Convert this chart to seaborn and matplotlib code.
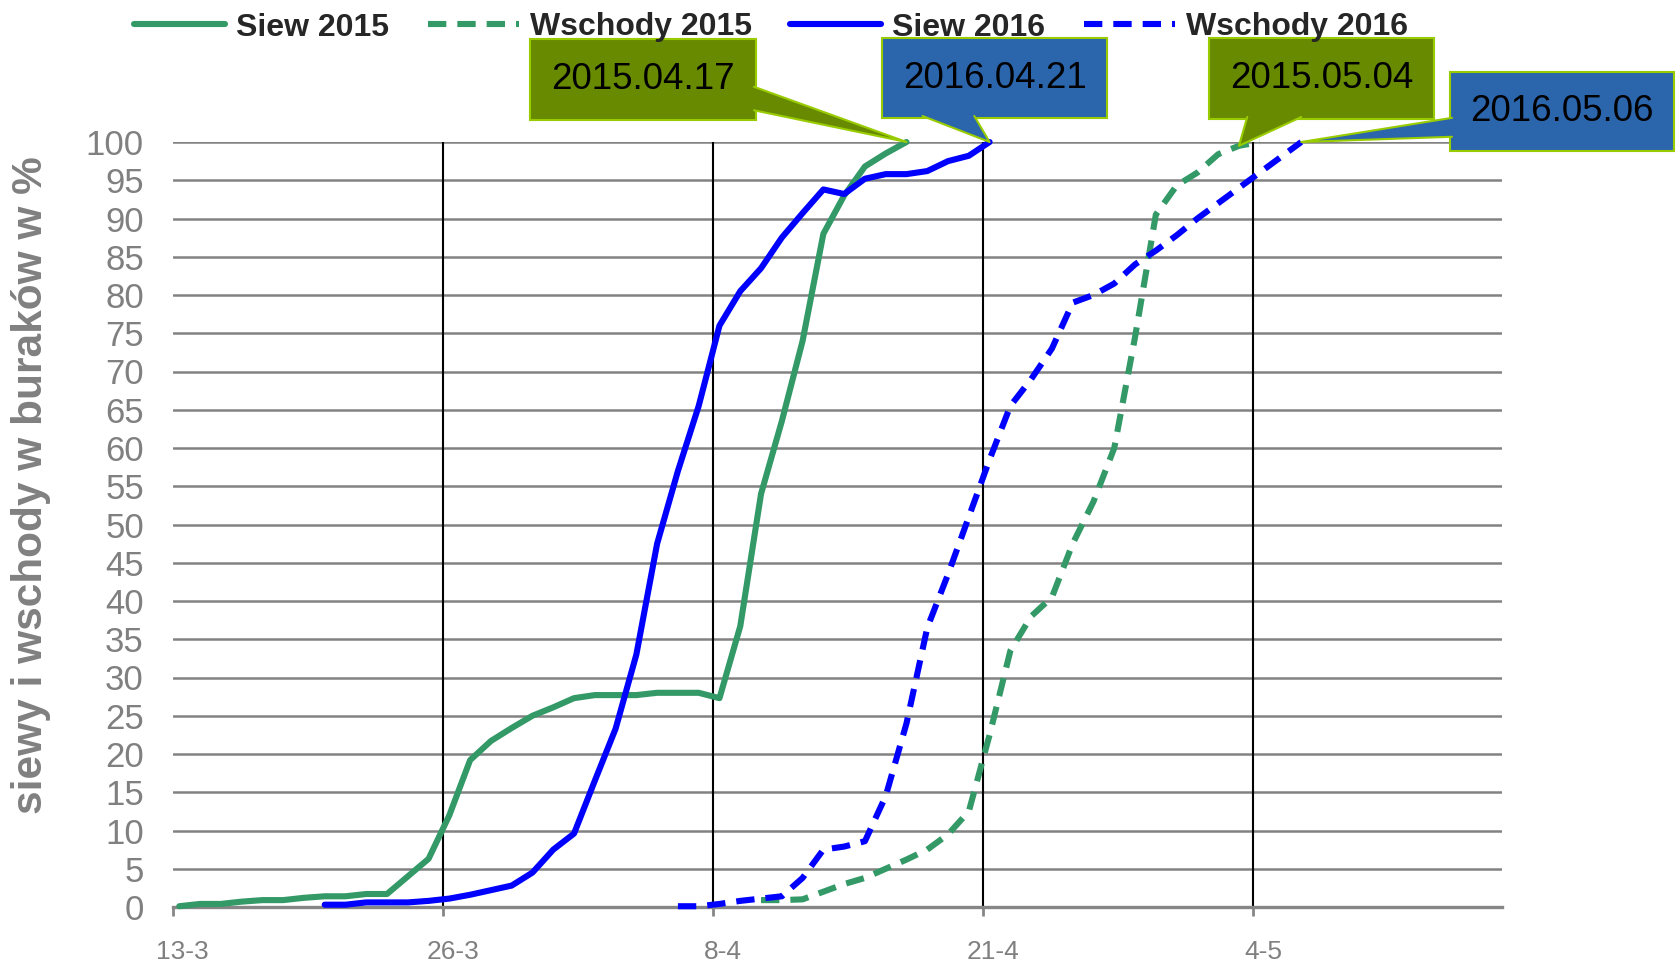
import matplotlib
matplotlib.use("Agg")
import matplotlib.pyplot as plt
import matplotlib.patches as mpatches
import matplotlib.lines as mlines
from matplotlib.transforms import ScaledTranslation
import numpy as np
import pandas as pd
import seaborn as sns

# x axis: days counted from 13 March (same calendar for both seasons)
tick_days = [0, 13, 26, 39, 52]
tick_labels = ["13-3", "26-3", "8-4", "21-4", "4-5"]

siew_2015_start = 0
siew_2015 = [0.1, 0.4, 0.4, 0.7, 0.9, 0.9, 1.2, 1.4, 1.4, 1.7, 1.7, 4.0, 6.3,
             12.0, 19.2, 21.7, 23.4, 25.0, 26.1, 27.3, 27.7, 27.7, 27.7, 28.0,
             28.0, 28.0, 27.3, 36.7, 54.0, 63.5, 74.0, 88.0, 93.0, 96.8, 98.5,
             100.0]

wschody_2015_start = 28
wschody_2015 = [0.9, 0.9, 1.0, 2.0, 3.0, 3.8, 5.0, 6.2, 7.5, 9.5, 12.5, 22.5,
                33.5, 38.0, 40.5, 47.5, 53.0, 60.0, 74.5, 90.5, 94.3, 96.0,
                98.4, 99.5, 100.0]

siew_2016_start = 7
siew_2016 = [0.3, 0.3, 0.6, 0.6, 0.6, 0.8, 1.1, 1.6, 2.2, 2.8, 4.5, 7.5, 9.6,
             16.5, 23.3, 33.0, 47.5, 57.0, 65.5, 76.0, 80.5, 83.5, 87.5, 90.7,
             93.8, 93.2, 95.2, 95.8, 95.8, 96.2, 97.5, 98.2, 100.0]

wschody_2016_start = 24
wschody_2016 = [0.1, 0.1, 0.4, 0.8, 1.1, 1.4, 3.8, 7.5, 7.9, 8.6, 14.5, 24.0,
                36.5, 43.5, 51.0, 58.5, 65.5, 69.0, 73.0, 79.0, 80.0, 81.5,
                84.0, 85.8, 87.8, 90.0, 92.0, 94.0, 96.0, 98.0, 100.0]

series_names = ["Siew 2015", "Wschody 2015", "Siew 2016", "Wschody 2016"]
series_starts = [siew_2015_start, wschody_2015_start, siew_2016_start, wschody_2016_start]
series_values = [siew_2015, wschody_2015, siew_2016, wschody_2016]
series_colors = ["#339966", "#339966", "#0000FF", "#0000FF"]
series_styles = ["-", (0, (3, 1.8)), "-", (0, (3, 1.8))]

# callouts: text, series it points at, which point of that series
callout_texts = ["2015.04.17", "2016.04.21", "2015.05.04", "2016.05.06"]
callout_series = ["Siew 2015", "Siew 2016", "Wschody 2015", "Wschody 2016"]
callout_point = [-1, -1, -2, -1]
callout_fill = ["#688A00", "#2B65AC", "#688A00", "#2B65AC"]

frames = []
for name, start, vals in zip(series_names, series_starts, series_values):
    frames.append(pd.DataFrame({"day": np.arange(start, start + len(vals)),
                                "value": vals, "series": name}))
df = pd.concat(frames, ignore_index=True)

sns.set_theme(style="white")
plt.rcParams["font.family"] = ["Liberation Sans", "DejaVu Sans"]

W, H = 1677, 965


def px(x, y):
    # pixel position (y down) -> figure fraction
    return x / W, 1 - y / H


fig = plt.figure(figsize=(W / 100, H / 100), dpi=100)
ax = fig.add_axes([173 / W, 1 - 907 / H, (1502 - 173) / W, (907 - 142) / H])

for name, color, style in zip(series_names, series_colors, series_styles):
    sns.lineplot(data=df[df["series"] == name], x="day", y="value",
                 color=color, linestyle=style, linewidth=4.4, label=name,
                 ax=ax, zorder=3, clip_on=False)
handles, labels = ax.get_legend_handles_labels()
if ax.get_legend() is not None:
    ax.get_legend().remove()

ax.set_xlim(-0.3, 63.66)
ax.set_ylim(0, 100)
ax.set_xlabel("")
ax.set_ylabel("")
ax.set_yticks(range(0, 101, 5))
# excel puts the day boundaries on the ticks, points sit a bit later
ax.set_xticks(np.array(tick_days) - 0.3, tick_labels)

for side in ["left", "top", "right"]:
    ax.spines[side].set_visible(False)
ax.spines["bottom"].set_color("#868686")
ax.spines["bottom"].set_linewidth(2.4)

ax.yaxis.grid(True, color="#828282", linewidth=1.8)
ax.xaxis.grid(False)
for t in tick_days[1:]:
    ax.axvline(t - 0.3, color="black", linewidth=1.5, zorder=1.5)

ax.tick_params(axis="x", bottom=True, direction="out", length=6.5, width=2,
               color="#868686", labelcolor="#808080", labelsize=19, pad=17)
ax.tick_params(axis="y", left=False, length=0, labelcolor="#808080",
               labelsize=25, pad=21)
shift = ScaledTranslation(7 / 72, 0, fig.dpi_scale_trans)
for lbl in ax.get_xticklabels():
    lbl.set_transform(lbl.get_transform() + shift)

fig.text(31 / W, 1 - 485 / H, "siewy i wschody w buraków w %", rotation=90,
         ha="center", va="center", fontsize=30.5, fontweight="bold",
         color="#808080")

fig.legend(handles, labels, loc="center left", bbox_to_anchor=px(134, 27.5),
           ncol=4, frameon=False, prop=dict(weight="bold", size=23),
           handlelength=2.85, handletextpad=0.35, columnspacing=1.2,
           borderpad=0, borderaxespad=0)

# callout boxes (left, top, width, height in pixels) and tail bases
boxes = [(530, 39, 226, 81), (882, 38, 225, 80), (1209, 38, 225, 81), (1450, 72, 224, 79)]
tails = [("right", 0.12, 0.41), ("bottom", 0.18, 0.41),
         ("bottom", 0.17, 0.41), ("left", 0.18, 0.42)]
edge = "#99CC00"
inv = fig.transFigure.inverted()

for (bx, by, bw, bh), text, sname, idx, fill, (side, f0, f1) in zip(
        boxes, callout_texts, callout_series, callout_point, callout_fill, tails):
    sub = df[df["series"] == sname]
    apex_disp = ax.transData.transform((sub["day"].iloc[idx], sub["value"].iloc[idx]))
    apex = inv.transform(apex_disp)

    x0, y0 = px(bx, by + bh)
    fig.add_artist(mpatches.Rectangle((x0, y0), bw / W, bh / H,
                                      transform=fig.transFigure, fc=fill,
                                      ec=edge, lw=1.5, zorder=5))
    if side == "right":
        b0 = px(bx + bw - 2, by + bh * (1 - f0))
        b1 = px(bx + bw - 2, by + bh * (1 - f1))
    elif side == "left":
        b0 = px(bx + 2, by + bh * (1 - f0))
        b1 = px(bx + 2, by + bh * (1 - f1))
    else:
        b0 = px(bx + bw * f0, by + bh - 2)
        b1 = px(bx + bw * f1, by + bh - 2)
    fig.add_artist(mpatches.Polygon([b0, apex, b1], closed=True,
                                    transform=fig.transFigure, fc=fill,
                                    ec="none", zorder=6))
    fig.add_artist(mlines.Line2D([b0[0], apex[0], b1[0]], [b0[1], apex[1], b1[1]],
                                 transform=fig.transFigure, color=edge, lw=1.5,
                                 zorder=6))
    cx, cy = px(bx + bw / 2, by + bh / 2)
    fig.text(cx, cy, text, ha="center", va="center", fontsize=26.5,
             color="black", zorder=7)

fig.savefig("out.png", dpi=100)
